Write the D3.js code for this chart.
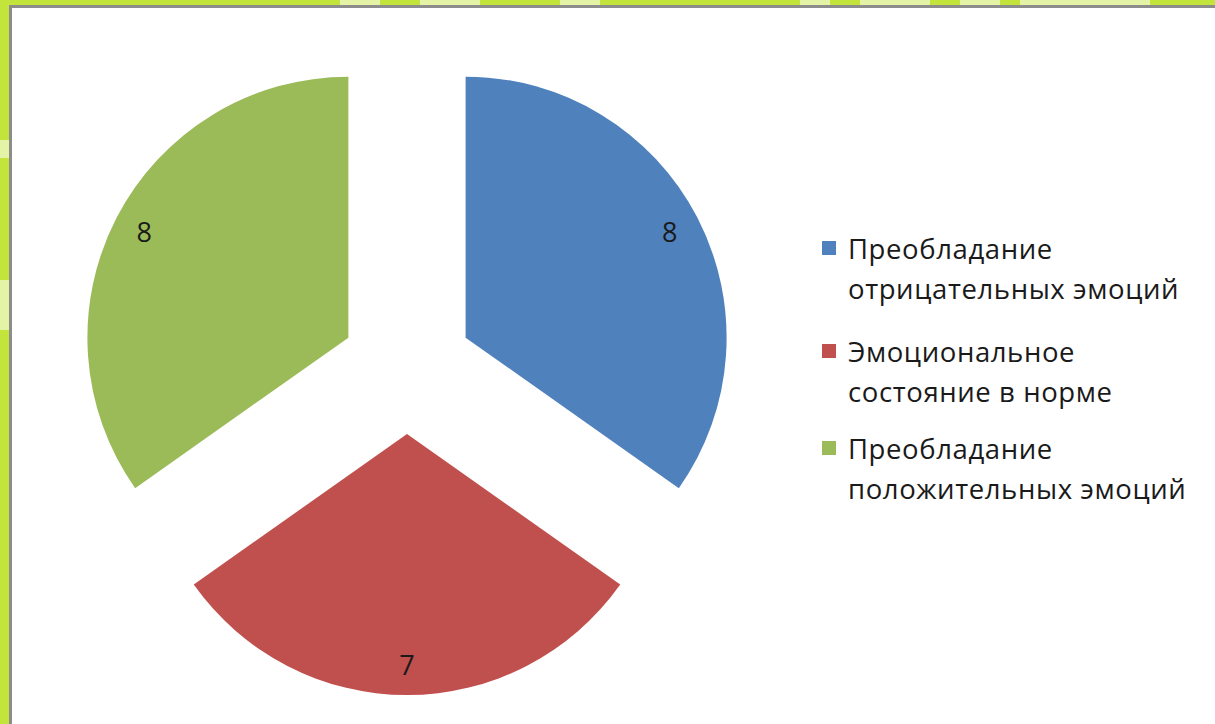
<!DOCTYPE html>
<html>
<head>
<meta charset="utf-8">
<script src="https://cdn.jsdelivr.net/npm/d3@7"></script>
<style>
  html, body { margin: 0; padding: 0; background: #ffffff; }
  svg { display: block; }
</style>
</head>
<body>
<svg id="chart" width="1215" height="724"></svg>
<script>
// Emotional state distribution
const categories = [
  "Преобладание отрицательных эмоций",
  "Эмоциональное состояние в норме",
  "Преобладание положительных эмоций"
];
const legendLines = [
  ["Преобладание", "отрицательных эмоций"],
  ["Эмоциональное", "состояние в норме"],
  ["Преобладание", "положительных эмоций"]
];
const values = [8, 7, 8];
const colors = ["#4f81bd", "#c0504d", "#9bbb59"];

const svg = d3.select("#chart");
const W = 1215, H = 724;

// Slide frame: green backdrop with a grey-edged white panel
svg.append("rect").attr("x", 0).attr("y", 0).attr("width", W).attr("height", H).attr("fill", "#c3e53b");
const deco = svg.append("g").attr("fill", "#eaf6b8").attr("opacity", 0.85);
[[340, 0, 40, 6], [420, 0, 60, 6], [560, 0, 40, 6], [800, 0, 30, 6], [860, 0, 70, 6], [960, 0, 40, 6], [1020, 0, 130, 6]]
  .forEach(([x, y, w, h]) => deco.append("rect").attr("x", x).attr("y", y).attr("width", w).attr("height", h));
[[0, 140, 9, 18], [0, 280, 9, 50]]
  .forEach(([x, y, w, h]) => deco.append("rect").attr("x", x).attr("y", y).attr("width", w).attr("height", h));
svg.append("rect").attr("x", 9).attr("y", 5).attr("width", W - 9).attr("height", H - 5).attr("fill", "#8c8c8c");
svg.append("rect").attr("x", 12).attr("y", 8).attr("width", W - 12).attr("height", H - 8).attr("fill", "#ffffff");

// Exploded pie
const cx = 407, cy = 368, R = 261, explode = 66, labelR = 230;
const pie = d3.pie().sort(null).value(d => d)(values);
const arc = d3.arc().innerRadius(0).outerRadius(R);

const slices = svg.append("g").attr("transform", `translate(${cx},${cy})`);
pie.forEach((p, i) => {
  const mid = (p.startAngle + p.endAngle) / 2;
  const dx = Math.sin(mid) * explode, dy = -Math.cos(mid) * explode;
  const g = slices.append("g").attr("transform", `translate(${dx},${dy})`);
  g.append("path").attr("d", arc(p)).attr("fill", colors[i]);
  g.append("text")
    .attr("x", Math.sin(mid) * labelR)
    .attr("y", -Math.cos(mid) * labelR)
    .attr("text-anchor", "middle")
    .attr("dominant-baseline", "central")
    .attr("font-family", "'Open Sans', 'DejaVu Sans', sans-serif")
    .attr("font-size", 27)
    .attr("fill", "#1a1a1a")
    .text(p.data);
});

// Legend
const legend = svg.append("g").attr("transform", "translate(822,0)");
const itemY = [248, 351, 448];
legendLines.forEach((lines, i) => {
  const g = legend.append("g").attr("transform", `translate(0,${itemY[i]})`);
  g.append("rect").attr("x", 0).attr("y", -7).attr("width", 14).attr("height", 14).attr("fill", colors[i]);
  lines.forEach((t, j) => {
    g.append("text")
      .attr("x", 26)
      .attr("y", j * 40)
      .attr("dominant-baseline", "central")
      .attr("font-family", "'Open Sans', 'DejaVu Sans', sans-serif")
      .attr("font-size", 27.5)
      .attr("letter-spacing", 0.6)
      .attr("fill", "#1a1a1a")
      .text(t);
  });
});
</script>
</body>
</html>
